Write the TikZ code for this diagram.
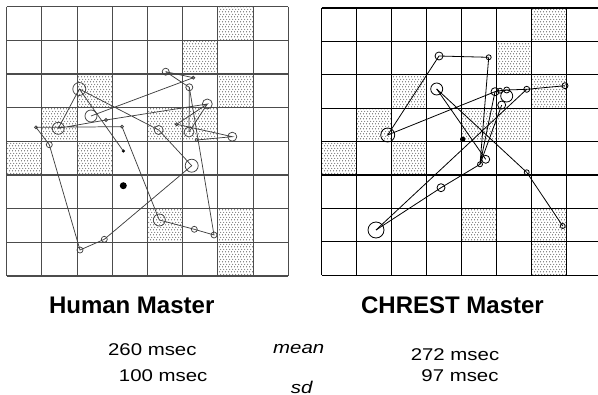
\documentclass[tikz,border=0pt]{standalone}
\usepackage{fontspec}
\setmainfont{Liberation Sans}
\usetikzlibrary{patterns}
\pgfdeclarepatternformonly{fdots}{\pgfpointorigin}{\pgfqpoint{2.25pt}{4pt}}{\pgfqpoint{2.25pt}{4pt}}{
  \pgfpathcircle{\pgfqpoint{0.56pt}{1pt}}{0.5pt}
  \pgfpathcircle{\pgfqpoint{1.69pt}{3pt}}{0.5pt}
  \pgfusepath{fill}
}
\tikzset{
  gridL/.style={draw=black!70, line width=0.8pt},
  gridR/.style={draw=black, line width=0.8pt},
  shade/.style={pattern=fdots, pattern color=black!70},
  scanL/.style={draw=black!75, line width=0.55pt},
  scanR/.style={draw=black, line width=0.6pt},
  fixL/.style={circle, draw=black!75, line width=0.55pt, inner sep=0pt, minimum size=#1*1.5pt},
  fixR/.style={circle, draw=black, line width=0.6pt, inner sep=0pt, minimum size=#1*1.5pt},
  dotfix/.style={circle, fill=black, inner sep=0pt, minimum size=#1*1.5pt},
  title/.style={anchor=base, font=\fontsize{18}{20}\selectfont\bfseries},
  val/.style={anchor=base, font=\fontsize{12.75}{14}\selectfont},
}
\begin{document}
\begin{tikzpicture}[x=0.75pt,y=-0.75pt]
\useasboundingbox (0,0) rectangle (598,395);
\clip (0,0) rectangle (598,395);
\fill[white] (0,0) rectangle (598,395);

% ---------- left board ----------
\foreach \c/\r in {6/0,5/1,2/2,6/2,1/3,4/3,5/3,0/4,2/4,4/6,6/6,6/7}
  \fill[shade] ({6.7+\c*35.2},{6.7+\r*33.66}) rectangle ++(35.2,33.66);
\foreach \i in {0,...,8} {
  \draw[gridL] ({6.7+\i*35.2},6.7) -- ({6.7+\i*35.2},276);
  \draw[gridL] (6.7,{6.7+\i*33.66}) -- (288.3,{6.7+\i*33.66});
}
\node[fixL=3.5] (lA) at (165.7,71.7) {};
\node[fixL=1.5] (lB) at (193.3,77.7) {};
\node[fixL=3.5] (lC) at (189.3,87.3) {};
\node[fixL=6.5] (lD) at (79.3,89) {};
\node[fixL=5] (lE) at (207.3,104) {};
\node[fixL=6] (lF) at (91,116) {};
\node[fixL=1.5] (lT) at (106,120) {};
\node[fixL=1.5] (lG) at (176.7,124.3) {};
\node[fixL=6] (lH) at (58.3,128.3) {};
\node[fixL=1.5] (lS) at (36,127.3) {};
\node[fixL=1.5] (lQ) at (122,126.7) {};
\node[fixL=4.5] (lI) at (158.7,130) {};
\node[fixL=5] (lJ) at (189,132) {};
\node[fixL=4.5] (lK) at (232.3,136.7) {};
\node[fixL=1.5] (lU) at (196.7,140) {};
\node[fixL=3] (lL) at (49.3,144.7) {};
\node[dotfix=1.7] (lR) at (123.3,151) {};
\node[dotfix=3.5] (lN) at (123.3,185.7) {};
\node[fixL=6.5] (lM) at (191.7,165.7) {};
\node[fixL=6] (lO) at (159.3,220) {};
\node[fixL=3] (lP13) at (194.3,229.3) {};
\node[fixL=3] (lP14) at (214,235) {};
\node[fixL=3] (lP12) at (104.3,239.3) {};
\node[fixL=3] (lP11) at (80,250) {};
\draw[scanL] (lA.center) -- (lB.center) -- (lF.center);
\draw[scanL] (lA.center) -- (lC.center) -- (lP14.center) -- (lP13.center) -- (lO.center) -- (lQ.center) -- (lS.center) -- (lL.center) -- (lP11.center) -- (lP12.center) -- (lM.center) -- (lI.center) -- (lD.center) -- (lH.center) -- (lT.center) -- (lE.center) -- (lG.center) -- (lK.center) -- (lU.center);
\draw[scanL] (lD.center) -- (lR.center);
\draw[scanL] (lE.center) -- (lJ.center);
\draw[scanL] (lC.center) -- (lJ.center);

% ---------- right board ----------
\foreach \c/\r in {6/0,5/1,2/2,6/2,1/3,4/3,5/3,0/4,2/4,4/6,6/6,6/7}
  \fill[shade] ({321.7+\c*35},{8+\r*33.4}) rectangle ++(35,33.4);
\foreach \i in {0,...,8} {
  \draw[gridR] ({321.7+\i*35},8) -- ({321.7+\i*35},275.2);
  \draw[gridR] (321.7,{8+\i*33.4}) -- (601.7,{8+\i*33.4});
}
\node[fixR=4] (r1) at (439,56) {};
\node[fixR=2.5] (r2) at (488.7,57.3) {};
\node[fixR=6] (r3) at (436.7,89) {};
\node[fixR=4] (c1) at (495,91.7) {};
\node[fixR=2.5] (c2) at (500,90.7) {};
\node[fixR=3] (c3) at (506.7,90) {};
\node[fixR=6] (c4) at (506.7,96) {};
\node[fixR=4] (c5) at (501.7,105) {};
\node[fixR=3] (c6) at (526.7,89.3) {};
\node[fixR=3] (c7) at (565,85.7) {};
\node[fixR=7] (r4) at (387.7,135) {};
\node[dotfix=2.7] (rdot) at (462.7,139.3) {};
\node[fixR=4] (d1) at (485.7,159.3) {};
\node[fixR=2.5] (d2) at (480,164.3) {};
\node[fixR=2.5] (e1) at (526.7,172.3) {};
\node[fixR=4] (f1) at (441,187.7) {};
\node[fixR=2.5] (g1) at (562.7,226) {};
\node[fixR=8] (r5) at (376,230) {};
\draw[scanR] (r2.center) -- (r1.center) -- (r4.center) -- (c1.center) -- (c2.center) -- (c3.center) -- (c6.center) -- (c7.center);
\draw[scanR] (r2.center) -- (d2.center) -- (c1.center);
\draw[scanR] (d2.center) -- (c5.center);
\draw[scanR] (r3.center) -- (d1.center);
\draw[scanR] (r3.center) -- (e1.center) -- (g1.center);
\draw[scanR] (r5.center) -- (f1.center) -- (d2.center);
\draw[scanR] (r5.center) -- (c6.center);

% ---------- texts ----------
\node[title] (t1) at (131.7,313.3) {Human Master};
\node[title] (t2) at (452.5,313.3) {CHREST Master};
\node[val] (m1) at (152.3,355) {\scalebox{1.2}[1]{260 msec}};
\node[val] (s1) at (163.2,381.7) {\scalebox{1.2}[1]{100 msec}};
\node[val] (mn) at (298.7,353.3) {\scalebox{1.2}[1]{\itshape mean}};
\node[val] (sd) at (301.7,393) {\scalebox{1.2}[1]{\itshape sd}};
\node[val] (m2) at (455,360) {\scalebox{1.2}[1]{272 msec}};
\node[val] (s2) at (460,381.7) {\scalebox{1.2}[1]{97 msec}};
\end{tikzpicture}
\end{document}
